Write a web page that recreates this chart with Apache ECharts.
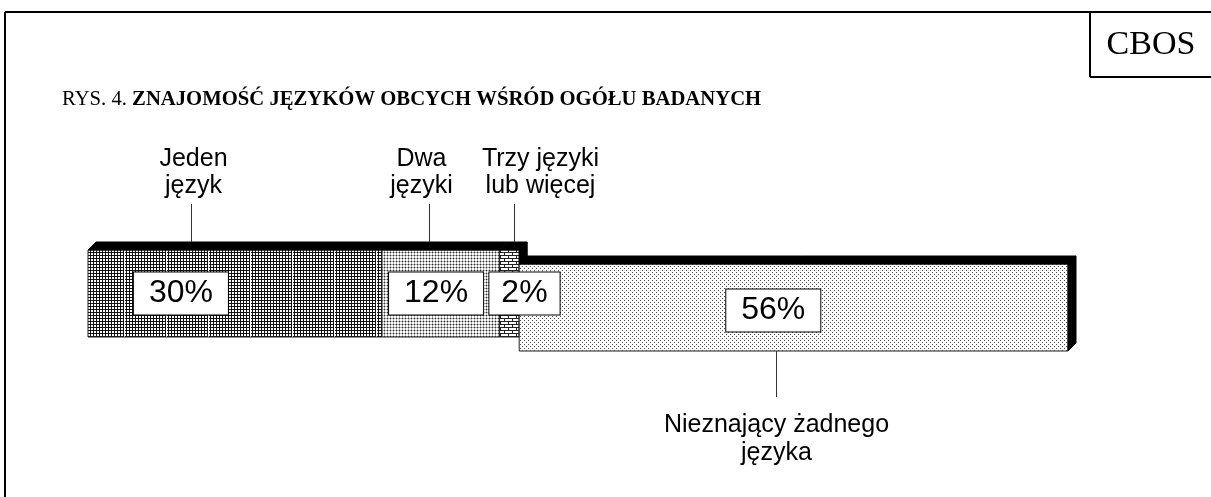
<!DOCTYPE html>
<html>
<head>
<meta charset="utf-8">
<script src="https://cdn.jsdelivr.net/npm/echarts@6/dist/echarts.min.js"></script>
<style>
html, body { margin: 0; padding: 0; background: #fff; }
#chart { width: 1211px; height: 497px; }
</style>
</head>
<body>
<div id="chart"></div>
<script>
// dane
var categories = ['Jeden\njęzyk', 'Dwa\njęzyki', 'Trzy języki\nlub więcej', 'Nieznający żadnego\njęzyka'];
var shares = [30, 12, 2, 56];
var exploded = [0, 0, 0, 1];
var valueLabels = ['30%', '12%', '2%', '56%'];
var titlePlain = 'RYS. 4. ';
var titleBold = 'ZNAJOMOŚĆ JĘZYKÓW OBCYCH WŚRÓD OGÓŁU BADANYCH';
var sourceName = 'CBOS';

// wyglad poszczegolnych segmentow (ulamki szerokosci segmentu, piksele)
var look = [
    { pattern: 'darkGrid', boxAt: 0.316, pad: [5, 15], leaderAt: 0.35, textDx: 2, up: true, last: false },
    { pattern: 'lightGrid', boxAt: 0.46, pad: [5, 15], leaderAt: 0.40, textDx: -8, up: true, last: false },
    { pattern: 'brick', boxAt: 1.27, pad: [5, 12], leaderAt: 0.73, textDx: 26, up: true, last: true },
    { pattern: 'dots', boxAt: 0.463, pad: [5, 15], leaderAt: 0.468, textDx: 0, up: false, last: true }
];
var DEPTH = 8;      // glebokosc efektu 3D
var DROP = 14;      // przesuniecie wysunietego segmentu
var LEADER = 38;    // dlugosc linii odniesienia

function makePattern(w, h, draw) {
    var c = document.createElement('canvas');
    c.width = w;
    c.height = h;
    var ctx = c.getContext('2d');
    ctx.fillStyle = '#fff';
    ctx.fillRect(0, 0, w, h);
    draw(ctx, w, h);
    return c;
}

var patterns = {
    darkGrid: makePattern(42, 3, function (ctx, w, h) {
        ctx.fillStyle = '#111';
        ctx.fillRect(0, 0, w, 1);
        for (var x = 0; x < w; x += 3) ctx.fillRect(x, 0, 1, h);
        ctx.fillStyle = '#fff';
        ctx.fillRect(w - 2, 0, 1, h);
    }),
    lightGrid: makePattern(3, 3, function (ctx) {
        ctx.fillStyle = '#aaa';
        ctx.fillRect(0, 0, 3, 1);
        ctx.fillRect(0, 0, 1, 3);
        ctx.fillStyle = '#333';
        ctx.fillRect(0, 0, 1, 1);
    }),
    brick: makePattern(8, 6, function (ctx) {
        ctx.fillStyle = '#222';
        ctx.fillRect(0, 0, 8, 1);
        ctx.fillRect(0, 3, 8, 1);
        ctx.fillRect(0, 1, 1, 2);
        ctx.fillRect(4, 4, 1, 2);
    }),
    dots: makePattern(4, 4, function (ctx) {
        ctx.fillStyle = '#444';
        ctx.fillRect(0, 0, 1, 1);
        ctx.fillRect(2, 2, 1, 1);
    })
};

// poczatek i koniec kazdego segmentu
var segData = [];
var acc = 0;
for (var i = 0; i < shares.length; i++) {
    segData.push([acc, acc + shares[i], 0, exploded[i], shares[i]]);
    acc += shares[i];
}

var LABEL_FONT = '25px "Liberation Sans", Arial, sans-serif';

function renderItem(params, api) {
    var i = params.dataIndex;
    var lk = look[i];
    var x0 = api.coord([api.value(0), 0])[0];
    var x1 = api.coord([api.value(1), 0])[0];
    var cy = api.coord([api.value(0), 0])[1];
    var h = api.size([0, 1])[1];
    var y0 = cy - h / 2 + api.value(3) * DROP;
    var y1 = y0 + h;
    var D = DEPTH;
    var children = [];

    // przednia sciana
    children.push({
        type: 'rect',
        shape: { x: x0, y: y0, width: x1 - x0, height: h },
        style: { fill: { image: patterns[lk.pattern], repeat: 'repeat' }, stroke: '#222', lineWidth: 1 }
    });
    // gorna sciana
    children.push({
        type: 'polygon',
        shape: { points: [[x0, y0], [x0 + D, y0 - D], [x1 + D, y0 - D], [x1, y0]] },
        style: { fill: '#000', stroke: '#000', lineWidth: 1 }
    });
    // prawa sciana
    if (lk.last) {
        children.push({
            type: 'polygon',
            shape: { points: [[x1, y0], [x1 + D, y0 - D], [x1 + D, y1 - D], [x1, y1]] },
            style: { fill: '#000', stroke: '#000', lineWidth: 1 }
        });
    }
    // etykieta wartosci
    children.push({
        type: 'text',
        z2: 100,
        x: x0 + lk.boxAt * (x1 - x0),
        y: y0 + h / 2 + api.value(3) * 3,
        style: {
            text: valueLabels[i],
            font: '32px "Liberation Sans", Arial, sans-serif',
            fill: '#000',
            align: 'center',
            verticalAlign: 'middle',
            backgroundColor: '#fff',
            borderColor: '#000',
            borderWidth: 1,
            padding: lk.pad
        }
    });
    // linia odniesienia i nazwa kategorii
    var lx = Math.round(x0 + lk.leaderAt * (x1 - x0)) + 0.5;
    var ly0, ly1;
    if (lk.up) {
        ly0 = y0 - D;
        ly1 = ly0 - LEADER;
    } else {
        ly0 = y1;
        ly1 = ly0 + LEADER + 8;
    }
    children.push({
        type: 'line',
        shape: { x1: lx, y1: ly0, x2: lx, y2: ly1 },
        style: { stroke: '#333', lineWidth: 1 }
    });
    children.push({
        type: 'text',
        x: lx + lk.textDx,
        y: lk.up ? ly1 - 4 : ly1 + 14,
        style: {
            text: categories[i],
            font: LABEL_FONT,
            lineHeight: lk.up ? 27 : 28,
            fill: '#000',
            align: 'center',
            verticalAlign: lk.up ? 'bottom' : 'top'
        }
    });
    return { type: 'group', children: children };
}

var chart = echarts.init(document.getElementById('chart'), null, { renderer: 'canvas' });
chart.setOption({
    animation: false,
    backgroundColor: '#fff',
    grid: { left: 88, right: 143, top: 250, height: 87 },
    xAxis: { type: 'value', min: 0, max: 100, show: false },
    yAxis: { type: 'category', data: ['ogół'], show: false },
    series: [{
        type: 'custom',
        renderItem: renderItem,
        encode: { x: [0, 1], y: 2 },
        data: segData
    }],
    graphic: [
        // ramka
        { type: 'line', shape: { x1: 5, y1: 12, x2: 1211, y2: 12 }, style: { stroke: '#000', lineWidth: 2 } },
        { type: 'line', shape: { x1: 5, y1: 12, x2: 5, y2: 497 }, style: { stroke: '#000', lineWidth: 2 } },
        { type: 'line', shape: { x1: 1090, y1: 12, x2: 1090, y2: 77 }, style: { stroke: '#000', lineWidth: 2 } },
        { type: 'line', shape: { x1: 1090, y1: 77, x2: 1211, y2: 77 }, style: { stroke: '#000', lineWidth: 2 } },
        {
            type: 'text', x: 1151, y: 45,
            style: { text: sourceName, font: '34px "Liberation Serif", "Times New Roman", serif', fill: '#000', align: 'center', verticalAlign: 'middle' }
        },
        {
            type: 'text', x: 62, y: 99, scaleX: 0.94,
            style: {
                text: '{r|' + titlePlain + '}{b|' + titleBold + '}',
                fill: '#000',
                verticalAlign: 'middle',
                rich: {
                    r: { font: '22px "Liberation Serif", "Times New Roman", serif', fill: '#000' },
                    b: { font: 'bold 22px "Liberation Serif", "Times New Roman", serif', fill: '#000' }
                }
            }
        }
    ]
});
</script>
</body>
</html>
